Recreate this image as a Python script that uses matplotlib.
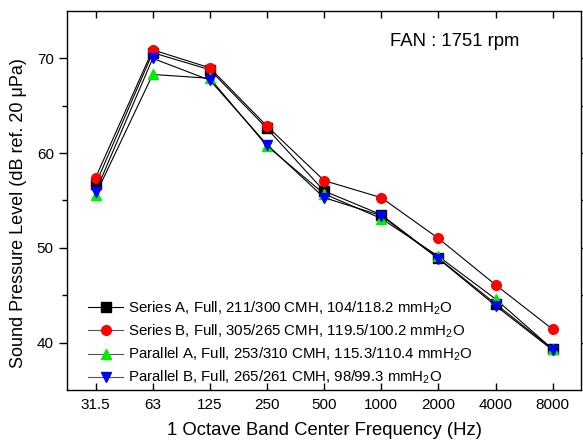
import matplotlib
matplotlib.use("Agg")
import matplotlib.pyplot as plt
from matplotlib.ticker import MultipleLocator, FixedLocator

plt.rcParams['font.family'] = ['Liberation Sans', 'DejaVu Sans']
plt.rcParams['mathtext.fontset'] = 'custom'
plt.rcParams['mathtext.rm'] = 'Liberation Sans'
plt.rcParams['mathtext.default'] = 'regular'

freqs = ["31.5", "63", "125", "250", "500", "1000", "2000", "4000", "8000"]
series_a = [56.7, 70.6, 68.8, 62.6, 56.0, 53.5, 48.9, 44.1, 39.3]
series_b = [57.4, 70.9, 69.0, 62.85, 57.1, 55.3, 51.0, 46.1, 41.4]
parallel_a = [55.6, 68.3, 67.9, 60.75, 55.7, 53.1, 49.1, 44.6, 39.3]
parallel_b = [55.9, 70.0, 67.7, 60.9, 55.3, 53.4, 48.85, 43.9, 39.2]

labels = [
    "Series A, Full, 211/300 CMH, 104/118.2 mmH$_2$O",
    "Series B, Full, 305/265 CMH, 119.5/100.2 mmH$_2$O",
    "Parallel A, Full, 253/310 CMH, 115.3/110.4 mmH$_2$O",
    "Parallel B, Full, 265/261 CMH, 98/99.3 mmH$_2$O",
]
colors = ["#000000", "#ff0000", "#00ee00", "#0000ff"]
markers = ["s", "o", "^", "v"]
data = [series_a, series_b, parallel_a, parallel_b]
minor_y = [45, 55, 65]

fig = plt.figure(figsize=(5.83, 4.44), dpi=100)
ax = fig.add_axes([67/583, 1-390/444, (581.3-67)/583, (390-11)/444])

x = list(range(len(freqs)))
for vals, c, m, lab in zip(data, colors, markers, labels):
    ax.plot(x, vals, color="black", linewidth=0.8, marker=m, markersize=7,
            markerfacecolor=c, markeredgecolor=c, label=lab)

ax.set_xlim(-0.5, 8.5)
ax.set_ylim(35, 75)
ax.set_xticks(x)
ax.set_xticklabels(freqs)
ax.yaxis.set_major_locator(MultipleLocator(10))
ax.yaxis.set_minor_locator(FixedLocator(minor_y))

for s in ax.spines.values():
    s.set_linewidth(1.0)

ax.tick_params(axis='y', which='both', direction='out', left=True, right=True,
               labelsize=11, width=1.0)
ax.tick_params(axis='y', which='major', length=6)
ax.tick_params(axis='y', which='minor', length=3.5)
ax.tick_params(axis='x', which='both', direction='in', top=True, bottom=True,
               labelsize=11, length=5, width=1.0, pad=6)

ax.set_xlabel("1 Octave Band Center Frequency (Hz)", fontsize=13.3, labelpad=7)
ax.set_ylabel("Sound Pressure Level (dB ref. 20 \u03bcPa)", fontsize=13)
ax.yaxis.set_label_coords(-0.077, 0.466)

ax.text(0.628, 0.92, "FAN : 1751 rpm", transform=ax.transAxes, fontsize=13.3,
        ha="left", va="center")

leg = ax.legend(loc="lower left", bbox_to_anchor=(0.03, -0.006), frameon=False,
                fontsize=10.8, handlelength=2.3, handletextpad=0.35,
                labelspacing=0.38, borderaxespad=0.0)
for i, h in enumerate(leg.legend_handles):
    if i > 0:
        h.set_color("#555555")

fig.savefig("out.png", dpi=100)
